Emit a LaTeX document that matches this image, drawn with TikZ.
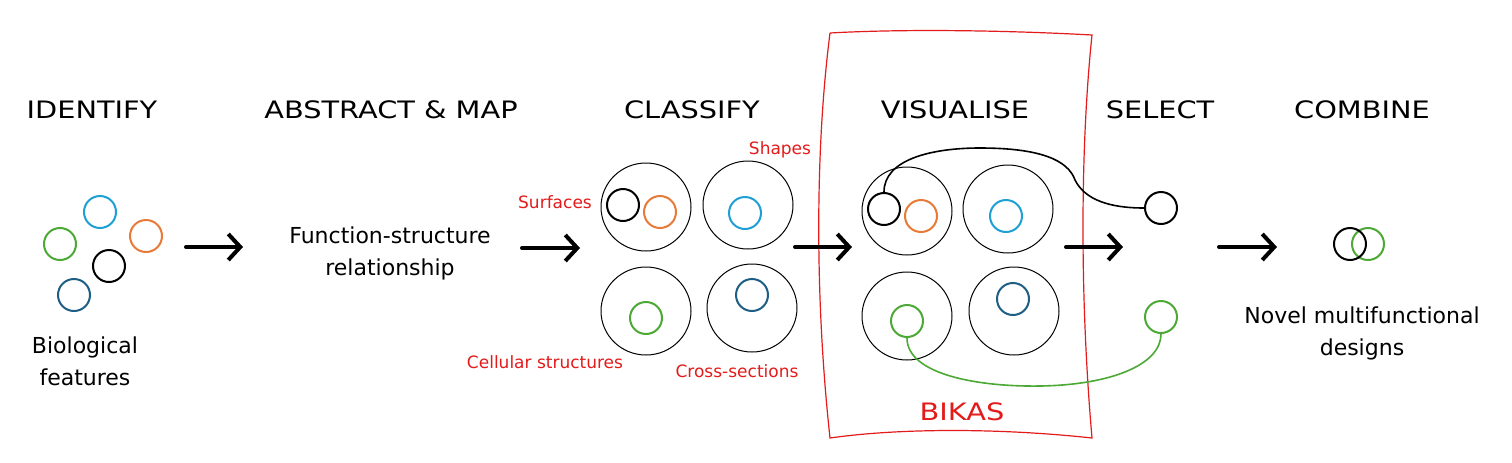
\documentclass[tikz,border=0pt]{standalone}
\usepackage{fontspec}
\usetikzlibrary{arrows.meta,shapes.geometric}
\newfontfamily\hand{DejaVu Sans}
\newfontfamily\handwide{DejaVu Sans}[FakeStretch=1.2]
\definecolor{cblue}{RGB}{30,160,212}
\definecolor{corange}{RGB}{232,122,56}
\definecolor{cgreen}{RGB}{76,169,53}
\definecolor{cdblue}{RGB}{30,94,133}
\definecolor{cred}{RGB}{227,27,27}
\tikzset{
  sc/.style={circle,draw,line width=1pt,minimum size=16pt,inner sep=0pt},
  big/.style={ellipse,draw,line width=0.5pt,minimum width=45pt,minimum height=44pt,inner sep=0pt},
  title/.style={font=\handwide\fontsize{12}{14}\selectfont,anchor=center},
  body/.style={font=\hand\fontsize{11}{16}\selectfont,align=center},
  lab/.style={font=\hand\fontsize{8.5}{10}\selectfont,text=cred},
  bigarrow/.style={line width=2pt,line cap=round,-{Straight Barb[length=6pt,width=13pt,line width=2pt]}},
  conn/.style={line width=0.8pt},
}
\begin{document}
\begin{tikzpicture}[x=0.5pt,y=-0.5pt]
\fill[white] (0,0) rectangle (1512,462);
\useasboundingbox (0,0) rectangle (1512,462);
% titles
\node[title] (t1) at (92,110) {IDENTIFY};
\node[title] (t2) at (391,110) {ABSTRACT \& MAP};
\node[title] (t3) at (692,110) {CLASSIFY};
\node[title] (t4) at (955,110) {VISUALISE};
\node[title] (t5) at (1160,110) {SELECT};
\node[title] (t6) at (1362,110) {COMBINE};
% identify
\node[sc,draw=cblue] (ib) at (100,212) {};
\node[sc,draw=corange] (io) at (146,236) {};
\node[sc,draw=cgreen] (ig) at (60,244) {};
\node[sc,draw=black] (ik) at (109,266) {};
\node[sc,draw=cdblue] (id) at (74,295) {};
\node[body] (bio) at (85,361) {Biological\\features};
% abstract
\node[body] (fsr) at (390,253) {Function-structure\\relationship};
% classify
\node[big] (c1) at (646,207) {};
\node[big] (c2) at (748,205) {};
\node[big] (c3) at (646,311) {};
\node[big] (c4) at (752,308) {};
\node[sc,draw=black] (ck) at (623,205) {};
\node[sc,draw=corange] (co) at (660,212) {};
\node[sc,draw=cblue] (cb) at (745,213) {};
\node[sc,draw=cgreen] (cg) at (646,318) {};
\node[sc,draw=cdblue] (cd) at (752,295) {};
\node[lab] (lsh) at (780,150) {Shapes};
\node[lab] (lsu) at (555,202) {Surfaces};
\node[lab] (lce) at (545,362) {Cellular structures};
\node[lab] (lcr) at (737,371) {Cross-sections};
% bikas box
\draw[cred,line width=0.6pt] (830,33) .. controls (900,29) and (1000,30) .. (1092,35)
  .. controls (1080,150) and (1080,300) .. (1092,438)
  .. controls (1000,428) and (900,428) .. (830,438)
  .. controls (815,300) and (815,150) .. (830,33);
\node[title,text=cred] (bik) at (962,412) {BIKAS};
% visualise
\node[big] (v1) at (907,211) {};
\node[big] (v2) at (1008,209) {};
\node[big] (v3) at (907,316) {};
\node[big] (v4) at (1014,311) {};
\node[sc,draw=black] (vk) at (884,209) {};
\node[sc,draw=corange] (vo) at (921,216) {};
\node[sc,draw=cblue] (vb) at (1006,216) {};
\node[sc,draw=cgreen] (vg) at (907,321) {};
\node[sc,draw=cdblue] (vd) at (1013,299) {};
% select
\node[sc,draw=black] (sk) at (1161,208) {};
\node[sc,draw=cgreen] (sg) at (1161,317) {};
\draw[conn] (vk.north) .. controls (884,160) and (930,148) .. (980,148)
  .. controls (1040,148) and (1068,160) .. (1075,180)
  .. controls (1085,200) and (1110,208) .. (sk.west);
\draw[conn,cgreen] (vg.south) .. controls (907,375) and (980,387) .. (1040,386)
  .. controls (1110,385) and (1161,365) .. (sg.south);
% combine
\node[sc,draw=cgreen] (mg) at (1368,244) {};
\node[sc,draw=black] (mk) at (1350,244) {};
\node[body] (nov) at (1362,333) {Novel multifunctional\\designs};
% arrows
\coordinate (a1s) at (186,247); \coordinate (a1e) at (243,247);
\coordinate (a2s) at (522,248); \coordinate (a2e) at (580,248);
\coordinate (a3s) at (795,247); \coordinate (a3e) at (852,247);
\coordinate (a4s) at (1066,247); \coordinate (a4e) at (1123,247);
\coordinate (a5s) at (1219,247); \coordinate (a5e) at (1277,247);
\draw[bigarrow] (a1s) -- (a1e);
\draw[bigarrow] (a2s) -- (a2e);
\draw[bigarrow] (a3s) -- (a3e);
\draw[bigarrow] (a4s) -- (a4e);
\draw[bigarrow] (a5s) -- (a5e);
\end{tikzpicture}
\end{document}
